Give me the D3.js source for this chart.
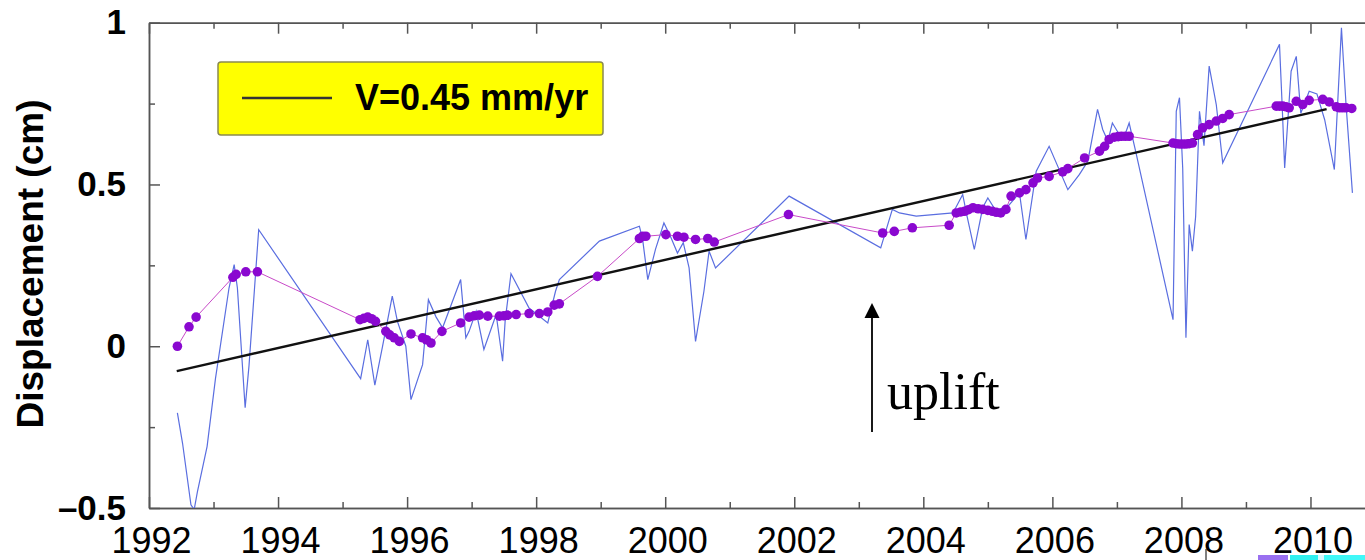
<!DOCTYPE html>
<html>
<head>
<meta charset="utf-8">
<script src="https://cdn.jsdelivr.net/npm/d3@7"></script>
<style>
  body { margin: 0; background: #fff; }
  svg { display: block; }
  .axis path, .axis line { stroke: #555; stroke-width: 1.5; }
</style>
</head>
<body>
<svg id="chart" width="1365" height="560"></svg>
<script>
// raw displacement series (thin blue)
var rawYears = [1992.44, 1992.52, 1992.65, 1992.70, 1992.75, 1992.90, 1993.03, 1993.24, 1993.32, 1993.37,
  1993.49, 1993.55, 1993.70, 1995.28, 1995.39, 1995.50, 1995.62, 1995.77, 1995.85, 1995.98,
  1996.06, 1996.24, 1996.33, 1996.45, 1996.55, 1996.83, 1996.91, 1996.96, 1997.07, 1997.19,
  1997.38, 1997.48, 1997.52, 1997.61, 1997.89, 1998.18, 1998.30, 1998.36, 1998.98, 1999.60,
  1999.65, 1999.73, 1999.85, 1999.98, 2000.09, 2000.19, 2000.28, 2000.37, 2000.47, 2000.60,
  2000.68, 2000.78, 2001.92, 2003.34, 2003.52, 2003.63, 2003.89, 2004.46, 2004.61, 2004.68,
  2004.79, 2004.92, 2005.00, 2005.12, 2005.30, 2005.49, 2005.59, 2005.75, 2005.95, 2006.24,
  2006.42, 2006.55, 2006.70, 2006.78, 2006.86, 2006.93, 2007.02, 2007.10, 2007.19, 2007.29,
  2007.87, 2007.92, 2007.97, 2008.02, 2008.07, 2008.12, 2008.17, 2008.22, 2008.28, 2008.35,
  2008.43, 2008.54, 2008.64, 2009.52, 2009.56, 2009.60, 2009.70, 2009.78, 2009.85, 2009.98,
  2010.10, 2010.22, 2010.37, 2010.48, 2010.55, 2010.65];
var rawValues = [-0.206, -0.30, -0.49, -0.505, -0.45, -0.31, -0.10, 0.18, 0.252, 0.18,
  -0.19, -0.06, 0.36, -0.10, 0.02, -0.12, 0.0, 0.155, 0.077, 0.0,
  -0.165, -0.057, 0.144, 0.09, 0.057, 0.206, 0.026, 0.046, 0.108, -0.01,
  0.098, -0.046, 0.08, 0.224, 0.118, 0.072, 0.17, 0.206, 0.325, 0.371,
  0.33, 0.206, 0.30, 0.381, 0.335, 0.288, 0.32, 0.242, 0.015, 0.17,
  0.294, 0.242, 0.464, 0.304, 0.423, 0.412, 0.402, 0.412, 0.469, 0.40,
  0.299, 0.428, 0.458, 0.42, 0.43, 0.474, 0.33, 0.541, 0.618, 0.484,
  0.531, 0.572, 0.732, 0.67, 0.634, 0.69, 0.66, 0.64, 0.69, 0.603,
  0.082, 0.726, 0.768, 0.55, 0.026, 0.376, 0.294, 0.40, 0.726, 0.62,
  0.866, 0.747, 0.567, 0.933, 0.75, 0.551, 0.85, 0.896, 0.72, 0.788,
  0.78, 0.70, 0.546, 0.984, 0.75, 0.474];

// filtered series (purple dots)
var fitYears = [1992.44, 1992.62, 1992.73, 1993.30, 1993.35, 1993.50, 1993.68, 1995.27, 1995.33, 1995.39,
  1995.45, 1995.51, 1995.67, 1995.73, 1995.80, 1995.88, 1996.06, 1996.24, 1996.30, 1996.37,
  1996.54, 1996.83, 1996.96, 1997.04, 1997.12, 1997.25, 1997.43, 1997.50, 1997.56, 1997.69,
  1997.89, 1998.05, 1998.18, 1998.28, 1998.36, 1998.95, 1999.60, 1999.65, 1999.70, 2000.01,
  2000.19, 2000.29, 2000.47, 2000.66, 2000.76, 2001.91, 2003.37, 2003.55, 2003.83, 2004.40,
  2004.51, 2004.58, 2004.64, 2004.70, 2004.77, 2004.85, 2004.92, 2005.00, 2005.07, 2005.13,
  2005.20, 2005.28, 2005.36, 2005.49, 2005.59, 2005.70, 2005.77, 2005.95, 2006.16, 2006.24,
  2006.50, 2006.73, 2006.81, 2006.88, 2006.96, 2007.02, 2007.07, 2007.13, 2007.19, 2007.87,
  2007.92, 2007.97, 2008.02, 2008.07, 2008.12, 2008.17, 2008.25, 2008.33, 2008.43, 2008.54,
  2008.64, 2008.74, 2009.47, 2009.52, 2009.57, 2009.62, 2009.67, 2009.78, 2009.88, 2009.98,
  2010.19, 2010.29, 2010.40, 2010.45, 2010.50, 2010.55, 2010.64];
var fitValues = [0.0, 0.06, 0.09, 0.213, 0.222, 0.23, 0.23, 0.082, 0.086, 0.09,
  0.085, 0.077, 0.046, 0.035, 0.026, 0.015, 0.038, 0.026, 0.02, 0.01,
  0.046, 0.072, 0.09, 0.094, 0.096, 0.093, 0.093, 0.094, 0.096, 0.098,
  0.101, 0.101, 0.106, 0.127, 0.131, 0.216, 0.333, 0.34, 0.34, 0.345,
  0.34, 0.337, 0.33, 0.333, 0.322, 0.407, 0.35, 0.355, 0.366, 0.374,
  0.412, 0.415, 0.417, 0.422, 0.428, 0.425, 0.423, 0.42, 0.417, 0.414,
  0.412, 0.423, 0.464, 0.474, 0.484, 0.505, 0.52, 0.525, 0.539, 0.549,
  0.582, 0.603, 0.618, 0.639, 0.646, 0.648, 0.649, 0.649, 0.649, 0.628,
  0.626, 0.625, 0.625, 0.625, 0.626, 0.628, 0.654, 0.675, 0.685, 0.696,
  0.704, 0.716, 0.742, 0.742, 0.742, 0.74, 0.737, 0.757, 0.747, 0.76,
  0.763, 0.755, 0.74, 0.737, 0.737, 0.737, 0.735];

// linear trend, V = 0.45 mm/yr
var trendYears = [1992.43, 2010.25];
var trendValues = [-0.077, 0.733];

var xMajor = [1992, 1994, 1996, 1998, 2000, 2002, 2004, 2006, 2008, 2010];
var xMinor = [1993, 1995, 1997, 1999, 2001, 2003, 2005, 2007, 2009];
var yMajor = [-0.5, 0, 0.5, 1];
var yMinor = [-0.25, 0.25, 0.75];
var yLabels = ["\u20130.5", "0", "0.5", "1"];
var legendLabel = "V=0.45 mm/yr";

var svg = d3.select("#chart");
var plotLeft = 149, plotTop = 22.7, plotBottom = 508, plotRight = 1375;

var x = d3.scaleLinear().domain([1992, 2011]).range([plotLeft, plotRight]);
var y = d3.scaleLinear().domain([-0.5, 1]).range([plotBottom, plotTop]);

var sans = "'Liberation Sans', Arial, Helvetica, sans-serif";

// frame + ticks (ticks point inwards)
var xb = svg.append("g").attr("class", "axis").attr("transform", "translate(0," + plotBottom + ")")
  .call(d3.axisBottom(x).tickValues(xMajor).tickFormat(d3.format("d")).tickSize(-11).tickSizeOuter(0).tickPadding(19));
xb.selectAll("text").attr("font-family", sans).attr("font-size", 36).attr("fill", "#000").attr("dx", 2);
svg.append("g").attr("class", "axis").attr("transform", "translate(0," + plotBottom + ")")
  .call(d3.axisBottom(x).tickValues(xMinor).tickFormat("").tickSize(-6).tickSizeOuter(0));

svg.append("g").attr("class", "axis").attr("transform", "translate(0," + plotTop + ")")
  .call(d3.axisTop(x).tickValues(xMajor).tickFormat("").tickSize(-11).tickSizeOuter(0));
svg.append("g").attr("class", "axis").attr("transform", "translate(0," + plotTop + ")")
  .call(d3.axisTop(x).tickValues(xMinor).tickFormat("").tickSize(-6).tickSizeOuter(0));

var yl = svg.append("g").attr("class", "axis").attr("transform", "translate(" + plotLeft + ",0)")
  .call(d3.axisLeft(y).tickValues(yMajor).tickSize(-11).tickSizeOuter(0).tickPadding(23)
    .tickFormat(function (d, i) { return yLabels[i]; }));
yl.selectAll("text").attr("font-family", sans).attr("font-size", 35).attr("font-weight", "bold").attr("fill", "#000");
svg.append("g").attr("class", "axis").attr("transform", "translate(" + plotLeft + ",0)")
  .call(d3.axisLeft(y).tickValues(yMinor).tickFormat("").tickSize(-6).tickSizeOuter(0));

svg.append("text")
  .attr("transform", "translate(43,264) rotate(-90)")
  .attr("text-anchor", "middle")
  .attr("font-family", sans).attr("font-size", 37).attr("font-weight", "bold")
  .text("Displacement (cm)");

svg.append("clipPath").attr("id", "plot")
  .append("rect").attr("x", plotLeft).attr("y", plotTop)
  .attr("width", plotRight - plotLeft).attr("height", plotBottom - plotTop);
var plot = svg.append("g").attr("clip-path", "url(#plot)");

var raw = rawYears.map(function (d, i) { return [d, rawValues[i]]; });
var fit = fitYears.map(function (d, i) { return [d, fitValues[i]]; });
var trend = trendYears.map(function (d, i) { return [d, trendValues[i]]; });
var line = d3.line().x(function (d) { return x(d[0]); }).y(function (d) { return y(d[1]); });

plot.append("path").datum(raw).attr("d", line)
  .attr("fill", "none").attr("stroke", "#5a6ee0").attr("stroke-width", 1.2);

plot.append("path").datum(trend).attr("d", line)
  .attr("fill", "none").attr("stroke", "#111").attr("stroke-width", 2.4);

plot.append("path").datum(fit).attr("d", line)
  .attr("fill", "none").attr("stroke", "#c84ac8").attr("stroke-width", 1);
plot.selectAll("circle.fit").data(fit).enter().append("circle")
  .attr("class", "fit")
  .attr("cx", function (d) { return x(d[0]); })
  .attr("cy", function (d) { return y(d[1]); })
  .attr("r", 4.8)
  .attr("fill", "#8a08d0");

// legend
var lg = svg.append("g");
lg.append("rect").attr("x", 218).attr("y", 62).attr("width", 385).attr("height", 73).attr("rx", 3)
  .attr("fill", "#ffff00").attr("stroke", "#8a8a50").attr("stroke-width", 1.5);
lg.append("line").attr("x1", 242).attr("x2", 332).attr("y1", 98).attr("y2", 98)
  .attr("stroke", "#333").attr("stroke-width", 2.6);
lg.append("text").attr("x", 355).attr("y", 110)
  .attr("font-family", sans).attr("font-size", 36).attr("font-weight", "bold").text(legendLabel);

// uplift annotation
svg.append("line").attr("x1", 872).attr("x2", 872).attr("y1", 432).attr("y2", 316)
  .attr("stroke", "#000").attr("stroke-width", 1.8);
svg.append("path").attr("d", "M872,303 L879.5,318 L864.5,318 Z").attr("fill", "#000");
svg.append("text").attr("x", 887).attr("y", 409)
  .attr("font-family", "'Liberation Serif', 'Times New Roman', serif").attr("font-size", 52)
  .text("uplift");

// clipped bits at the bottom-right edge
svg.append("line").attr("x1", 1206).attr("x2", 1206).attr("y1", 549).attr("y2", 560)
  .attr("stroke", "#000").attr("stroke-width", 1);
var strip = [["#9a70f0", 1258, 30], ["#30f0f0", 1290, 28], ["#d8f8ff", 1318, 6], ["#40f8f8", 1324, 41]];
svg.selectAll("rect.strip").data(strip).enter().append("rect").attr("class", "strip")
  .attr("x", function (d) { return d[1]; }).attr("y", 555).attr("width", function (d) { return d[2]; })
  .attr("height", 5).attr("fill", function (d) { return d[0]; });
</script>
</body>
</html>
